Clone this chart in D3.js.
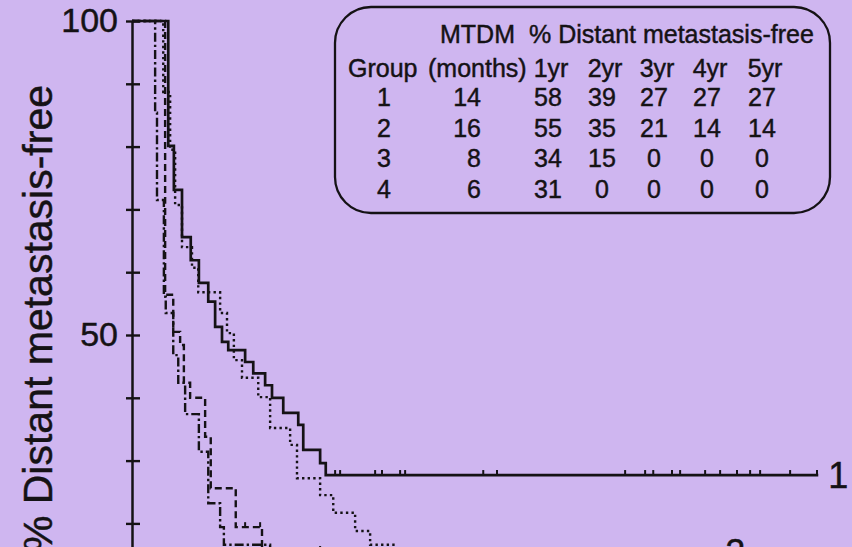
<!DOCTYPE html>
<html>
<head>
<meta charset="utf-8">
<script src="https://cdn.jsdelivr.net/npm/d3@7"></script>
<style>
  html, body { margin: 0; padding: 0; background: #cfb6f0; overflow: hidden; }
  svg { display: block; }
  text { font-family: "Liberation Sans", Arial, Helvetica, sans-serif; fill: #151215; stroke: #151215; stroke-width: 0.45px; }
</style>
</head>
<body>
<svg id="chart" width="852" height="547"></svg>
<script>
// ---- Kaplan-Meier curves: event times (months) and survival (%) after each step ----
const g1Time = [5.8, 6.7, 8.0, 9.4, 10.7, 12.2, 13.3, 14.4, 15.4, 18.1, 19.4, 21.3, 22.4, 24.2, 26.6, 27.4, 30.1, 31.0];
const g1Surv = [80.1, 73.1, 65.6, 61.9, 58.3, 55.3, 51.3, 48.9, 47.6, 45.7, 43.9, 42.0, 40.0, 37.6, 35.7, 31.7, 29.6, 27.7];
const g1End = 109.8;
const g1Censor = [32.5, 33.3, 38.9, 40.0, 42.9, 43.7, 56.2, 58.4, 78.9, 82.1, 83.4, 86.4, 87.7, 91.7, 94.1, 96.8, 98.9, 100.5, 105.3, 109.6];

const g2Time = [5.0, 6.1, 6.9, 8.0, 9.6, 10.6, 14.1, 15.2, 16.3, 17.6, 20.2, 22.1, 25.3, 26.4, 30.1, 32.2, 35.7, 38.1, 42.1];
const g2Surv = [88.7, 79.5, 70.7, 64.0, 60.7, 56.8, 53.5, 50.3, 46.0, 43.2, 40.1, 35.2, 32.5, 27.2, 24.5, 21.7, 18.8, 16.6, 15.4];
const g2End = 93.3;
const g2Censor = [62.6, 92.5];

const g3Time = [5.3, 6.6, 7.7, 8.3, 9.3, 11.7, 12.6, 16.6, 20.8, 31.7];
const g3Surv = [56.4, 50.5, 48.4, 42.4, 40.0, 33.8, 25.6, 19.4, 15.6, 0];
const g3End = 31.7;
const g3Censor = [18.1, 20.5, 30.1];

const g4Time = [3.7, 4.0, 5.1, 5.4, 6.6, 7.4, 8.5, 10.7, 12.2, 14.1, 14.7, 22.1];
const g4Surv = [85.4, 71.5, 56.1, 53.5, 46.8, 42.4, 37.4, 31.4, 23.2, 19.4, 16.6, 0];
const g4End = 22.1;
const g4Censor = [];

// ---- summary table ----
const groups = ["1", "2", "3", "4"];
const mtdmMonths = [14, 16, 8, 6];
const yearLabels = ["1yr", "2yr", "3yr", "4yr", "5yr"];
const dmfRates = [
  [58, 39, 27, 27, 27],
  [55, 35, 21, 14, 14],
  [34, 15, 0, 0, 0],
  [31, 0, 0, 0, 0]
];

const yTicks = d3.range(10, 101, 10);
const yLabelled = [50, 100];

const svg = d3.select("#chart");
const ink = "#151215";

const x = d3.scaleLinear().domain([0, 120]).range([132, 882]);
const y = d3.scaleLinear().domain([0, 100]).range([649, 21]);

// y axis with crossing ticks
const yAxis = d3.axisLeft(y)
  .tickValues(yTicks)
  .tickSizeInner(6)
  .tickSizeOuter(0)
  .tickPadding(8)
  .tickFormat(d => yLabelled.includes(d) ? d : "");

const ag = svg.append("g")
  .attr("transform", `translate(${x(0)},0)`)
  .attr("color", ink)
  .call(yAxis);
ag.select(".domain").attr("stroke-width", 2.5);
ag.selectAll(".tick line").attr("x1", 8).attr("stroke-width", 2.4);
ag.selectAll(".tick text")
  .attr("font-size", 34)
  .attr("font-family", "'Liberation Sans', Arial, sans-serif")
  .attr("fill", ink);

// y axis title
svg.append("text")
  .attr("transform", "translate(52,85) rotate(-90)")
  .attr("text-anchor", "end")
  .attr("font-size", 41)
  .text("% Distant metastasis-free");

// curves
const series = [
  { id: "1", time: g1Time, surv: g1Surv, end: g1End, censor: g1Censor, dash: null, width: 2.7, label: true },
  { id: "2", time: g2Time, surv: g2Surv, end: g2End, censor: g2Censor, dash: "2.4,3.2", width: 2.4, label: true },
  { id: "3", time: g3Time, surv: g3Surv, end: g3End, censor: g3Censor, dash: "7,4", width: 2.4, label: false },
  { id: "4", time: g4Time, surv: g4Surv, end: g4End, censor: g4Censor, dash: "9,3,2.4,3", width: 2.4, label: false }
];

const line = d3.line()
  .x(d => x(d[0]))
  .y(d => y(d[1]))
  .curve(d3.curveStepAfter);

function survAt(s, t) {
  let v = 100;
  s.time.forEach((ti, i) => { if (ti <= t) v = s.surv[i]; });
  return v;
}

series.forEach(s => {
  const pts = [[0, 100]].concat(s.time.map((t, i) => [t, s.surv[i]]));
  pts.push([s.end, s.surv[s.surv.length - 1]]);

  svg.append("path")
    .datum(pts)
    .attr("d", line)
    .attr("fill", "none")
    .attr("stroke", ink)
    .attr("stroke-width", s.width)
    .attr("stroke-dasharray", s.dash);

  svg.append("g").selectAll("line")
    .data(s.censor)
    .join("line")
    .attr("x1", d => x(d)).attr("x2", d => x(d))
    .attr("y1", d => y(survAt(s, d)))
    .attr("y2", d => y(survAt(s, d)) - 5)
    .attr("stroke", ink)
    .attr("stroke-width", 2);

  if (s.label) {
    const last = s.surv[s.surv.length - 1];
    svg.append("text")
      .attr("x", x(s.end) + 10)
      .attr("y", y(last) + 13)
      .attr("font-size", 36)
      .text(s.id);
  }
});

// summary table in a rounded box
const tbl = svg.append("g");
tbl.append("rect")
  .attr("x", 335).attr("y", 7)
  .attr("width", 495).attr("height", 206)
  .attr("rx", 36).attr("ry", 36)
  .attr("fill", "none")
  .attr("stroke", ink)
  .attr("stroke-width", 2.3);

const fs = 25;
const groupX = 384, mtdmX = 481;
const yearX = [548, 602, 654, 707, 762];
const rowY = [106, 137, 167, 198];

tbl.append("text").attr("x", 440).attr("y", 43).attr("font-size", fs).text("MTDM");
tbl.append("text").attr("x", 529).attr("y", 43).attr("font-size", fs).text("% Distant metastasis-free");
tbl.append("text").attr("x", 348).attr("y", 77).attr("font-size", fs).text("Group");
tbl.append("text").attr("x", 428).attr("y", 77).attr("font-size", fs).text("(months)");
tbl.selectAll(".yr").data(yearLabels).join("text")
  .attr("class", "yr")
  .attr("x", (d, i) => yearX[i] + 3)
  .attr("y", 77)
  .attr("text-anchor", "middle")
  .attr("font-size", fs)
  .text(d => d);

groups.forEach((g, r) => {
  tbl.append("text").attr("x", groupX).attr("y", rowY[r])
    .attr("text-anchor", "middle").attr("font-size", fs).text(g);
  tbl.append("text").attr("x", mtdmX).attr("y", rowY[r])
    .attr("text-anchor", "end").attr("font-size", fs).text(mtdmMonths[r]);
  dmfRates[r].forEach((v, c) => {
    tbl.append("text").attr("x", yearX[c]).attr("y", rowY[r])
      .attr("text-anchor", "middle").attr("font-size", fs).text(v);
  });
});
</script>
</body>
</html>
